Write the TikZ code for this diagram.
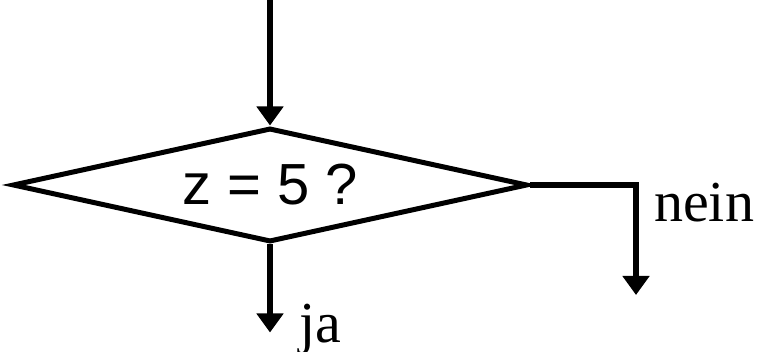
\documentclass[tikz,border=0pt]{standalone}
\usepackage{fontspec}
\setmainfont{Liberation Serif}
\setsansfont{Liberation Sans}
\usetikzlibrary{arrows.meta, positioning, shapes.geometric}
\tikzset{
    decision/.style={diamond, draw, line width=5pt, aspect=4.5,
                     minimum width=515pt, minimum height=114pt, inner sep=0pt,
                     font=\sffamily\fontsize{58}{60}\selectfont},
    flow/.style={-{Triangle[width=26pt, length=19pt]}, line width=5.5pt},
    answer/.style={font=\fontsize{58}{60}\selectfont, inner sep=0pt},
}
\begin{document}
\begin{tikzpicture}[x=1pt, y=-1pt]
    \useasboundingbox (0,0) rectangle (765,352);
    \node[decision] (test) at (270,185) {z = 5 ?};
    \coordinate (start) at (270,0);
    \coordinate[below=88pt of test.south] (jaEnd);
    \coordinate[right=106pt of test.east] (knick);
    \coordinate[below=110pt of knick] (neinEnd);
    \node[answer, anchor=base west] (jaLbl) at (299,342) {ja};
    \node[answer, anchor=base west] (neinLbl) at (654,222) {nein};
    \draw[flow] (start) -- (test.north);
    \draw[flow] (test.south) -- (jaEnd);
    \draw[flow] (test.east) -- (knick) -- (neinEnd);
\end{tikzpicture}
\end{document}
